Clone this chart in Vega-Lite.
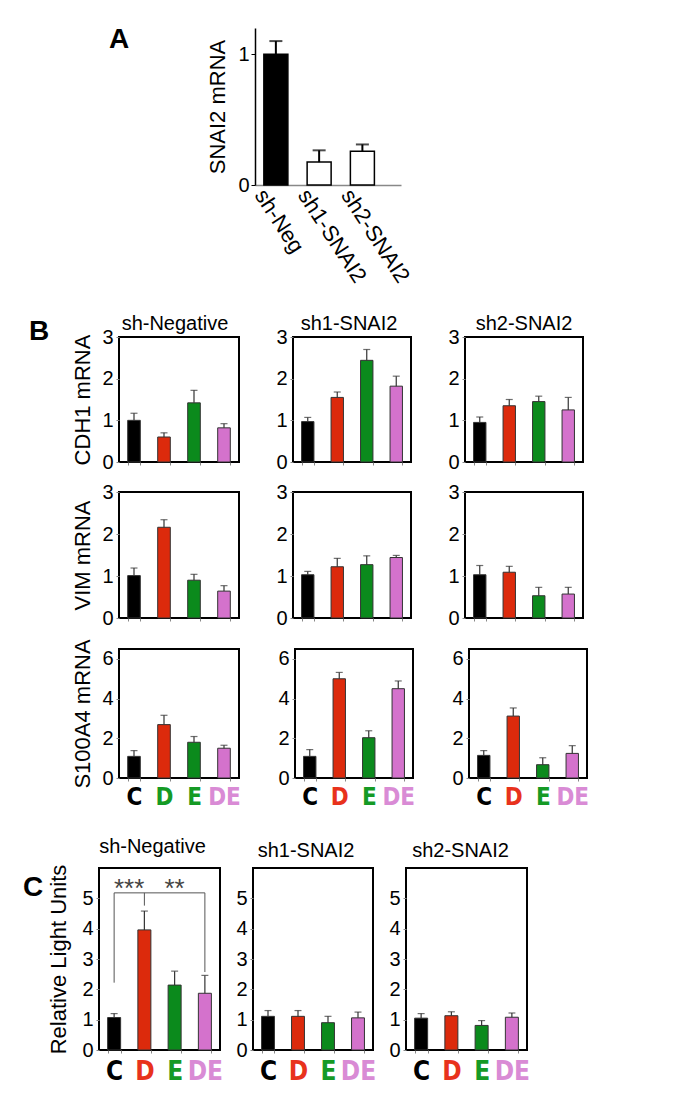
{
  "$schema": "https://vega.github.io/schema/vega-lite/v6.json",
  "background": "white",
  "padding": {"left": 22, "top": 26, "right": 5, "bottom": 5},
  "config": {
    "font": "Liberation Sans",
    "view": {"stroke": null},
    "title": {"fontSize": 20, "fontWeight": "normal", "font": "Liberation Sans", "color": "black"},
    "axis": {"labelFont": "Liberation Sans", "titleFont": "Liberation Sans", "labelColor": "black", "titleColor": "black", "titleFontWeight": "normal", "grid": false, "tickColor": "#888", "domainColor": "black", "labelOverlap": false}
  },
  "datasets": {
    "a": [
      {"name": "sh-Neg", "mean": 1.0, "upper": 1.10},
      {"name": "sh1-SNAI2", "mean": 0.175, "upper": 0.265},
      {"name": "sh2-SNAI2", "mean": 0.258, "upper": 0.31}
    ],
    "b": [
      {"gene": "CDH1", "grp": "sh-Negative", "cond": "C", "mean": 1.0, "upper": 1.17},
      {"gene": "CDH1", "grp": "sh-Negative", "cond": "D", "mean": 0.6, "upper": 0.7},
      {"gene": "CDH1", "grp": "sh-Negative", "cond": "E", "mean": 1.42, "upper": 1.72},
      {"gene": "CDH1", "grp": "sh-Negative", "cond": "DE", "mean": 0.82, "upper": 0.92},
      {"gene": "CDH1", "grp": "sh1-SNAI2", "cond": "C", "mean": 0.97, "upper": 1.07},
      {"gene": "CDH1", "grp": "sh1-SNAI2", "cond": "D", "mean": 1.55, "upper": 1.68},
      {"gene": "CDH1", "grp": "sh1-SNAI2", "cond": "E", "mean": 2.44, "upper": 2.7},
      {"gene": "CDH1", "grp": "sh1-SNAI2", "cond": "DE", "mean": 1.82, "upper": 2.06},
      {"gene": "CDH1", "grp": "sh2-SNAI2", "cond": "C", "mean": 0.95, "upper": 1.08},
      {"gene": "CDH1", "grp": "sh2-SNAI2", "cond": "D", "mean": 1.35, "upper": 1.5},
      {"gene": "CDH1", "grp": "sh2-SNAI2", "cond": "E", "mean": 1.45, "upper": 1.58},
      {"gene": "CDH1", "grp": "sh2-SNAI2", "cond": "DE", "mean": 1.25, "upper": 1.55},
      {"gene": "VIM", "grp": "sh-Negative", "cond": "C", "mean": 1.01, "upper": 1.19},
      {"gene": "VIM", "grp": "sh-Negative", "cond": "D", "mean": 2.16, "upper": 2.34},
      {"gene": "VIM", "grp": "sh-Negative", "cond": "E", "mean": 0.9, "upper": 1.04},
      {"gene": "VIM", "grp": "sh-Negative", "cond": "DE", "mean": 0.64, "upper": 0.77},
      {"gene": "VIM", "grp": "sh1-SNAI2", "cond": "C", "mean": 1.03, "upper": 1.11},
      {"gene": "VIM", "grp": "sh1-SNAI2", "cond": "D", "mean": 1.22, "upper": 1.42},
      {"gene": "VIM", "grp": "sh1-SNAI2", "cond": "E", "mean": 1.27, "upper": 1.48},
      {"gene": "VIM", "grp": "sh1-SNAI2", "cond": "DE", "mean": 1.44, "upper": 1.49},
      {"gene": "VIM", "grp": "sh2-SNAI2", "cond": "C", "mean": 1.03, "upper": 1.25},
      {"gene": "VIM", "grp": "sh2-SNAI2", "cond": "D", "mean": 1.09, "upper": 1.23},
      {"gene": "VIM", "grp": "sh2-SNAI2", "cond": "E", "mean": 0.53, "upper": 0.73},
      {"gene": "VIM", "grp": "sh2-SNAI2", "cond": "DE", "mean": 0.57, "upper": 0.73},
      {"gene": "S100A4", "grp": "sh-Negative", "cond": "C", "mean": 1.09, "upper": 1.38},
      {"gene": "S100A4", "grp": "sh-Negative", "cond": "D", "mean": 2.69, "upper": 3.16},
      {"gene": "S100A4", "grp": "sh-Negative", "cond": "E", "mean": 1.8, "upper": 2.09},
      {"gene": "S100A4", "grp": "sh-Negative", "cond": "DE", "mean": 1.5, "upper": 1.65},
      {"gene": "S100A4", "grp": "sh1-SNAI2", "cond": "C", "mean": 1.09, "upper": 1.43},
      {"gene": "S100A4", "grp": "sh1-SNAI2", "cond": "D", "mean": 5.0, "upper": 5.32},
      {"gene": "S100A4", "grp": "sh1-SNAI2", "cond": "E", "mean": 2.03, "upper": 2.38},
      {"gene": "S100A4", "grp": "sh1-SNAI2", "cond": "DE", "mean": 4.5, "upper": 4.89},
      {"gene": "S100A4", "grp": "sh2-SNAI2", "cond": "C", "mean": 1.14, "upper": 1.38},
      {"gene": "S100A4", "grp": "sh2-SNAI2", "cond": "D", "mean": 3.12, "upper": 3.53},
      {"gene": "S100A4", "grp": "sh2-SNAI2", "cond": "E", "mean": 0.67, "upper": 1.02},
      {"gene": "S100A4", "grp": "sh2-SNAI2", "cond": "DE", "mean": 1.24, "upper": 1.63}
    ],
    "c": [
      {"grp": "sh-Negative", "cond": "C", "mean": 1.07, "upper": 1.2},
      {"grp": "sh-Negative", "cond": "D", "mean": 3.96, "upper": 4.58},
      {"grp": "sh-Negative", "cond": "E", "mean": 2.14, "upper": 2.6},
      {"grp": "sh-Negative", "cond": "DE", "mean": 1.87, "upper": 2.46},
      {"grp": "sh1-SNAI2", "cond": "C", "mean": 1.11, "upper": 1.3},
      {"grp": "sh1-SNAI2", "cond": "D", "mean": 1.11, "upper": 1.3},
      {"grp": "sh1-SNAI2", "cond": "E", "mean": 0.9, "upper": 1.11},
      {"grp": "sh1-SNAI2", "cond": "DE", "mean": 1.06, "upper": 1.25},
      {"grp": "sh2-SNAI2", "cond": "C", "mean": 1.05, "upper": 1.2},
      {"grp": "sh2-SNAI2", "cond": "D", "mean": 1.13, "upper": 1.26},
      {"grp": "sh2-SNAI2", "cond": "E", "mean": 0.81, "upper": 0.97},
      {"grp": "sh2-SNAI2", "cond": "DE", "mean": 1.08, "upper": 1.22}
    ],
    "legs": [
      {"cond": "C", "lo": 2.22, "hi": 5.18},
      {"cond": "D", "lo": 4.76, "hi": 5.18},
      {"cond": "DE", "lo": 2.57, "hi": 5.18}
    ],
    "bar": [{"from": "C", "to": "DE", "y": 5.18}],
    "stars": [
      {"cond": "C", "label": "***", "y": 5.3},
      {"cond": "E", "label": "**", "y": 5.3}
    ]
  },
  "vconcat": [
    {
      "spacing": -7,
      "hconcat": [
        {
          "width": 188, "height": 24,
          "data": {"values": [{"panel": "A"}]},
          "mark": {"type": "text", "fontSize": 28, "fontWeight": "bold", "font": "Liberation Sans", "color": "black"},
          "encoding": {"text": {"field": "panel"}}
        },
        {
          "width": 146, "height": 157,
          "data": {"name": "a"},
          "encoding": {
            "x": {"field": "name", "type": "nominal", "sort": null,
              "scale": {"domain": ["sh-Neg", "sh1-SNAI2", "sh2-SNAI2"], "paddingInner": 0.445, "paddingOuter": 0.41, "align": 0.25},
              "axis": {"title": null, "ticks": false, "domainColor": "#888", "domainWidth": 1.5, "labelAngle": 57, "labelAlign": "left", "labelBaseline": "middle", "labelFontSize": 22, "labelOffset": -16, "labelPadding": 6}}
          },
          "layer": [
            {
              "mark": {"type": "bar", "stroke": "black", "strokeWidth": 1.5},
              "encoding": {
                "y": {"field": "mean", "type": "quantitative", "scale": {"domain": [0, 1.146]},
                  "axis": {"title": "SNAI2 mRNA", "values": [0, 1], "format": "d", "labelOverlap": false, "tickSize": 4, "tickColor": "black", "domainWidth": 1.5, "labelFontSize": 20, "labelPadding": 2, "titleFontSize": 22, "titlePadding": 8}},
                "color": {"condition": {"test": "datum.name === 'sh-Neg'", "value": "black"}, "value": "white"}
              }
            },
            {
              "mark": {"type": "rule", "color": "black", "strokeWidth": 2},
              "encoding": {"y": {"field": "mean", "type": "quantitative"}, "y2": {"field": "upper"}}
            },
            {
              "mark": {"type": "tick", "color": "black", "size": 13, "thickness": 2},
              "encoding": {"y": {"field": "upper", "type": "quantitative"}}
            }
          ]
        }
      ]
    },
    {
      "spacing": 17,
      "hconcat": [
        {
          "width": 28, "height": 6,
          "data": {"values": [{"panel": "B"}]},
          "mark": {"type": "text", "fontSize": 28, "fontWeight": "bold", "font": "Liberation Sans", "color": "black", "baseline": "alphabetic"},
          "encoding": {"text": {"field": "panel"}}
        },
        {
          "spacing": 8,
          "vconcat": [
            {
              "spacing": 34,
              "hconcat": [
                {
                  "width": 120, "height": 125,
                  "view": {"stroke": "black", "strokeWidth": 2},
                  "title": {"text": "sh-Negative", "offset": -7, "dx": -4},
                  "data": {"name": "b"},
                  "transform": [{"filter": "datum.gene === 'CDH1' && datum.grp === 'sh-Negative'"}],
                  "encoding": {"x": {"field": "cond", "type": "nominal", "sort": null, "scale": {"domain": ["C", "D", "E", "DE"], "paddingInner": 0.58, "paddingOuter": 0.29}, "axis": {"title": null, "labels": false, "domain": false, "tickBand": "extent", "tickSize": 3}}},
                  "layer": [
                    {"mark": {"type": "bar", "stroke": "#333", "strokeWidth": 1}, "encoding": {"y": {"field": "mean", "type": "quantitative", "scale": {"domain": [0, 3]}, "axis": {"title": "CDH1 mRNA", "values": [0, 0.5, 1, 1.5, 2, 2.5, 3], "labelExpr": "datum.value % 1 === 0 ? datum.label : ''", "labelOverlap": false, "domain": false, "tickSize": 3, "labelFontSize": 20, "labelPadding": 3, "titleFontSize": 22, "titlePadding": 7}}, "color": {"field": "cond", "type": "nominal", "scale": {"domain": ["C", "D", "E", "DE"], "range": ["#000000", "#dc2a0c", "#0b8a1c", "#d472cc"]}, "legend": null}}},
                    {"mark": {"type": "rule", "color": "#333", "strokeWidth": 1.2}, "encoding": {"y": {"field": "mean", "type": "quantitative"}, "y2": {"field": "upper"}}},
                    {"mark": {"type": "tick", "color": "#333", "size": 7, "thickness": 1.2}, "encoding": {"y": {"field": "upper", "type": "quantitative"}}}
                  ]
                },
                {
                  "width": 118, "height": 125,
                  "view": {"stroke": "black", "strokeWidth": 2},
                  "title": {"text": "sh1-SNAI2", "offset": -7, "dx": -3},
                  "data": {"name": "b"},
                  "transform": [{"filter": "datum.gene === 'CDH1' && datum.grp === 'sh1-SNAI2'"}],
                  "encoding": {"x": {"field": "cond", "type": "nominal", "sort": null, "scale": {"domain": ["C", "D", "E", "DE"], "paddingInner": 0.58, "paddingOuter": 0.29}, "axis": {"title": null, "labels": false, "domain": false, "tickBand": "extent", "tickSize": 3}}},
                  "layer": [
                    {"mark": {"type": "bar", "stroke": "#333", "strokeWidth": 1}, "encoding": {"y": {"field": "mean", "type": "quantitative", "scale": {"domain": [0, 3]}, "axis": {"title": null, "values": [0, 0.5, 1, 1.5, 2, 2.5, 3], "labelExpr": "datum.value % 1 === 0 ? datum.label : ''", "labelOverlap": false, "domain": false, "tickSize": 3, "labelFontSize": 20, "labelPadding": 3}}, "color": {"field": "cond", "type": "nominal", "scale": {"domain": ["C", "D", "E", "DE"], "range": ["#000000", "#dc2a0c", "#0b8a1c", "#d472cc"]}, "legend": null}}},
                    {"mark": {"type": "rule", "color": "#333", "strokeWidth": 1.2}, "encoding": {"y": {"field": "mean", "type": "quantitative"}, "y2": {"field": "upper"}}},
                    {"mark": {"type": "tick", "color": "#333", "size": 7, "thickness": 1.2}, "encoding": {"y": {"field": "upper", "type": "quantitative"}}}
                  ]
                },
                {
                  "width": 118, "height": 125,
                  "view": {"stroke": "black", "strokeWidth": 2},
                  "title": {"text": "sh2-SNAI2", "offset": -7},
                  "data": {"name": "b"},
                  "transform": [{"filter": "datum.gene === 'CDH1' && datum.grp === 'sh2-SNAI2'"}],
                  "encoding": {"x": {"field": "cond", "type": "nominal", "sort": null, "scale": {"domain": ["C", "D", "E", "DE"], "paddingInner": 0.58, "paddingOuter": 0.29}, "axis": {"title": null, "labels": false, "domain": false, "tickBand": "extent", "tickSize": 3}}},
                  "layer": [
                    {"mark": {"type": "bar", "stroke": "#333", "strokeWidth": 1}, "encoding": {"y": {"field": "mean", "type": "quantitative", "scale": {"domain": [0, 3]}, "axis": {"title": null, "values": [0, 0.5, 1, 1.5, 2, 2.5, 3], "labelExpr": "datum.value % 1 === 0 ? datum.label : ''", "labelOverlap": false, "domain": false, "tickSize": 3, "labelFontSize": 20, "labelPadding": 3}}, "color": {"field": "cond", "type": "nominal", "scale": {"domain": ["C", "D", "E", "DE"], "range": ["#000000", "#dc2a0c", "#0b8a1c", "#d472cc"]}, "legend": null}}},
                    {"mark": {"type": "rule", "color": "#333", "strokeWidth": 1.2}, "encoding": {"y": {"field": "mean", "type": "quantitative"}, "y2": {"field": "upper"}}},
                    {"mark": {"type": "tick", "color": "#333", "size": 7, "thickness": 1.2}, "encoding": {"y": {"field": "upper", "type": "quantitative"}}}
                  ]
                }
              ]
            },
            {
              "spacing": 34,
              "hconcat": [
                {
                  "width": 120, "height": 126,
                  "view": {"stroke": "black", "strokeWidth": 2},
                  "data": {"name": "b"},
                  "transform": [{"filter": "datum.gene === 'VIM' && datum.grp === 'sh-Negative'"}],
                  "encoding": {"x": {"field": "cond", "type": "nominal", "sort": null, "scale": {"domain": ["C", "D", "E", "DE"], "paddingInner": 0.58, "paddingOuter": 0.29}, "axis": {"title": null, "labels": false, "domain": false, "tickBand": "extent", "tickSize": 3}}},
                  "layer": [
                    {"mark": {"type": "bar", "stroke": "#333", "strokeWidth": 1}, "encoding": {"y": {"field": "mean", "type": "quantitative", "scale": {"domain": [0, 3]}, "axis": {"title": "VIM mRNA", "values": [0, 0.5, 1, 1.5, 2, 2.5, 3], "labelExpr": "datum.value % 1 === 0 ? datum.label : ''", "labelOverlap": false, "domain": false, "tickSize": 3, "labelFontSize": 20, "labelPadding": 3, "titleFontSize": 22, "titlePadding": 7}}, "color": {"field": "cond", "type": "nominal", "scale": {"domain": ["C", "D", "E", "DE"], "range": ["#000000", "#dc2a0c", "#0b8a1c", "#d472cc"]}, "legend": null}}},
                    {"mark": {"type": "rule", "color": "#333", "strokeWidth": 1.2}, "encoding": {"y": {"field": "mean", "type": "quantitative"}, "y2": {"field": "upper"}}},
                    {"mark": {"type": "tick", "color": "#333", "size": 7, "thickness": 1.2}, "encoding": {"y": {"field": "upper", "type": "quantitative"}}}
                  ]
                },
                {
                  "width": 118, "height": 126,
                  "view": {"stroke": "black", "strokeWidth": 2},
                  "data": {"name": "b"},
                  "transform": [{"filter": "datum.gene === 'VIM' && datum.grp === 'sh1-SNAI2'"}],
                  "encoding": {"x": {"field": "cond", "type": "nominal", "sort": null, "scale": {"domain": ["C", "D", "E", "DE"], "paddingInner": 0.58, "paddingOuter": 0.29}, "axis": {"title": null, "labels": false, "domain": false, "tickBand": "extent", "tickSize": 3}}},
                  "layer": [
                    {"mark": {"type": "bar", "stroke": "#333", "strokeWidth": 1}, "encoding": {"y": {"field": "mean", "type": "quantitative", "scale": {"domain": [0, 3]}, "axis": {"title": null, "values": [0, 0.5, 1, 1.5, 2, 2.5, 3], "labelExpr": "datum.value % 1 === 0 ? datum.label : ''", "labelOverlap": false, "domain": false, "tickSize": 3, "labelFontSize": 20, "labelPadding": 3}}, "color": {"field": "cond", "type": "nominal", "scale": {"domain": ["C", "D", "E", "DE"], "range": ["#000000", "#dc2a0c", "#0b8a1c", "#d472cc"]}, "legend": null}}},
                    {"mark": {"type": "rule", "color": "#333", "strokeWidth": 1.2}, "encoding": {"y": {"field": "mean", "type": "quantitative"}, "y2": {"field": "upper"}}},
                    {"mark": {"type": "tick", "color": "#333", "size": 7, "thickness": 1.2}, "encoding": {"y": {"field": "upper", "type": "quantitative"}}}
                  ]
                },
                {
                  "width": 118, "height": 126,
                  "view": {"stroke": "black", "strokeWidth": 2},
                  "data": {"name": "b"},
                  "transform": [{"filter": "datum.gene === 'VIM' && datum.grp === 'sh2-SNAI2'"}],
                  "encoding": {"x": {"field": "cond", "type": "nominal", "sort": null, "scale": {"domain": ["C", "D", "E", "DE"], "paddingInner": 0.58, "paddingOuter": 0.29}, "axis": {"title": null, "labels": false, "domain": false, "tickBand": "extent", "tickSize": 3}}},
                  "layer": [
                    {"mark": {"type": "bar", "stroke": "#333", "strokeWidth": 1}, "encoding": {"y": {"field": "mean", "type": "quantitative", "scale": {"domain": [0, 3]}, "axis": {"title": null, "values": [0, 0.5, 1, 1.5, 2, 2.5, 3], "labelExpr": "datum.value % 1 === 0 ? datum.label : ''", "labelOverlap": false, "domain": false, "tickSize": 3, "labelFontSize": 20, "labelPadding": 3}}, "color": {"field": "cond", "type": "nominal", "scale": {"domain": ["C", "D", "E", "DE"], "range": ["#000000", "#dc2a0c", "#0b8a1c", "#d472cc"]}, "legend": null}}},
                    {"mark": {"type": "rule", "color": "#333", "strokeWidth": 1.2}, "encoding": {"y": {"field": "mean", "type": "quantitative"}, "y2": {"field": "upper"}}},
                    {"mark": {"type": "tick", "color": "#333", "size": 7, "thickness": 1.2}, "encoding": {"y": {"field": "upper", "type": "quantitative"}}}
                  ]
                }
              ]
            },
            {
              "spacing": 34,
              "hconcat": [
                {
                  "width": 120, "height": 129,
                  "view": {"stroke": "black", "strokeWidth": 2},
                  "data": {"name": "b"},
                  "transform": [{"filter": "datum.gene === 'S100A4' && datum.grp === 'sh-Negative'"}],
                  "encoding": {"x": {"field": "cond", "type": "nominal", "sort": null, "scale": {"domain": ["C", "D", "E", "DE"], "paddingInner": 0.58, "paddingOuter": 0.29}, "axis": {"title": null, "domain": false, "tickBand": "extent", "tickSize": 3, "labelAngle": 0, "labelFont": "Liberation Sans Narrow, DejaVu Sans Condensed, Liberation Sans", "labelFontWeight": "bold", "labelFontSize": 24, "labelPadding": 4, "labelColor": {"condition": [{"test": "datum.value === 'D'", "value": "#159a25"}, {"test": "datum.value === 'E'", "value": "#159a25"}, {"test": "datum.value === 'DE'", "value": "#d98bd5"}], "value": "black"}}}},
                  "layer": [
                    {"mark": {"type": "bar", "stroke": "#333", "strokeWidth": 1}, "encoding": {"y": {"field": "mean", "type": "quantitative", "scale": {"domain": [0, 6.5]}, "axis": {"title": "S100A4 mRNA", "values": [0, 1, 2, 3, 4, 5, 6], "labelExpr": "datum.value % 2 === 0 ? datum.label : ''", "labelOverlap": false, "domain": false, "tickSize": 3, "labelFontSize": 20, "labelPadding": 3, "titleFontSize": 22, "titlePadding": 7}}, "color": {"field": "cond", "type": "nominal", "scale": {"domain": ["C", "D", "E", "DE"], "range": ["#000000", "#dc2a0c", "#0b8a1c", "#d472cc"]}, "legend": null}}},
                    {"mark": {"type": "rule", "color": "#333", "strokeWidth": 1.2}, "encoding": {"y": {"field": "mean", "type": "quantitative"}, "y2": {"field": "upper"}}},
                    {"mark": {"type": "tick", "color": "#333", "size": 7, "thickness": 1.2}, "encoding": {"y": {"field": "upper", "type": "quantitative"}}}
                  ]
                },
                {
                  "width": 118, "height": 129,
                  "view": {"stroke": "black", "strokeWidth": 2},
                  "data": {"name": "b"},
                  "transform": [{"filter": "datum.gene === 'S100A4' && datum.grp === 'sh1-SNAI2'"}],
                  "encoding": {"x": {"field": "cond", "type": "nominal", "sort": null, "scale": {"domain": ["C", "D", "E", "DE"], "paddingInner": 0.58, "paddingOuter": 0.29}, "axis": {"title": null, "domain": false, "tickBand": "extent", "tickSize": 3, "labelAngle": 0, "labelFont": "Liberation Sans Narrow, DejaVu Sans Condensed, Liberation Sans", "labelFontWeight": "bold", "labelFontSize": 24, "labelPadding": 4, "labelColor": {"condition": [{"test": "datum.value === 'D'", "value": "#e8321c"}, {"test": "datum.value === 'E'", "value": "#159a25"}, {"test": "datum.value === 'DE'", "value": "#d98bd5"}], "value": "black"}}}},
                  "layer": [
                    {"mark": {"type": "bar", "stroke": "#333", "strokeWidth": 1}, "encoding": {"y": {"field": "mean", "type": "quantitative", "scale": {"domain": [0, 6.5]}, "axis": {"title": null, "values": [0, 1, 2, 3, 4, 5, 6], "labelExpr": "datum.value % 2 === 0 ? datum.label : ''", "labelOverlap": false, "domain": false, "tickSize": 3, "labelFontSize": 20, "labelPadding": 3}}, "color": {"field": "cond", "type": "nominal", "scale": {"domain": ["C", "D", "E", "DE"], "range": ["#000000", "#dc2a0c", "#0b8a1c", "#d472cc"]}, "legend": null}}},
                    {"mark": {"type": "rule", "color": "#333", "strokeWidth": 1.2}, "encoding": {"y": {"field": "mean", "type": "quantitative"}, "y2": {"field": "upper"}}},
                    {"mark": {"type": "tick", "color": "#333", "size": 7, "thickness": 1.2}, "encoding": {"y": {"field": "upper", "type": "quantitative"}}}
                  ]
                },
                {
                  "width": 118, "height": 129,
                  "view": {"stroke": "black", "strokeWidth": 2},
                  "data": {"name": "b"},
                  "transform": [{"filter": "datum.gene === 'S100A4' && datum.grp === 'sh2-SNAI2'"}],
                  "encoding": {"x": {"field": "cond", "type": "nominal", "sort": null, "scale": {"domain": ["C", "D", "E", "DE"], "paddingInner": 0.58, "paddingOuter": 0.29}, "axis": {"title": null, "domain": false, "tickBand": "extent", "tickSize": 3, "labelAngle": 0, "labelFont": "Liberation Sans Narrow, DejaVu Sans Condensed, Liberation Sans", "labelFontWeight": "bold", "labelFontSize": 24, "labelPadding": 4, "labelColor": {"condition": [{"test": "datum.value === 'D'", "value": "#e8321c"}, {"test": "datum.value === 'E'", "value": "#159a25"}, {"test": "datum.value === 'DE'", "value": "#d98bd5"}], "value": "black"}}}},
                  "layer": [
                    {"mark": {"type": "bar", "stroke": "#333", "strokeWidth": 1}, "encoding": {"y": {"field": "mean", "type": "quantitative", "scale": {"domain": [0, 6.5]}, "axis": {"title": null, "values": [0, 1, 2, 3, 4, 5, 6], "labelExpr": "datum.value % 2 === 0 ? datum.label : ''", "labelOverlap": false, "domain": false, "tickSize": 3, "labelFontSize": 20, "labelPadding": 3}}, "color": {"field": "cond", "type": "nominal", "scale": {"domain": ["C", "D", "E", "DE"], "range": ["#000000", "#dc2a0c", "#0b8a1c", "#d472cc"]}, "legend": null}}},
                    {"mark": {"type": "rule", "color": "#333", "strokeWidth": 1.2}, "encoding": {"y": {"field": "mean", "type": "quantitative"}, "y2": {"field": "upper"}}},
                    {"mark": {"type": "tick", "color": "#333", "size": 7, "thickness": 1.2}, "encoding": {"y": {"field": "upper", "type": "quantitative"}}}
                  ]
                }
              ]
            }
          ]
        }
      ]
    },
    {
      "spacing": 2,
      "hconcat": [
        {
          "width": 16, "height": 40,
          "data": {"values": [{"panel": "C"}]},
          "mark": {"type": "text", "fontSize": 28, "fontWeight": "bold", "font": "Liberation Sans", "color": "black"},
          "encoding": {"text": {"field": "panel"}}
        },
        {
          "spacing": 10,
          "hconcat": [
            {
              "width": 121, "height": 182,
              "view": {"stroke": "black", "strokeWidth": 2},
              "title": {"text": "sh-Negative", "offset": 7, "dx": -7},
              "data": {"name": "c"},
              "resolve": {"axis": {"y": "independent"}},
              "encoding": {"x": {"field": "cond", "type": "nominal", "sort": null, "scale": {"domain": ["C", "D", "E", "DE"], "paddingInner": 0.57, "paddingOuter": 0.285}, "axis": {"title": null, "domain": false, "tickBand": "extent", "tickSize": 3, "labelAngle": 0, "labelFont": "Liberation Sans Narrow, DejaVu Sans Condensed, Liberation Sans", "labelFontWeight": "bold", "labelFontSize": 26, "labelPadding": 5, "labelColor": {"condition": [{"test": "datum.value === 'D'", "value": "#e8321c"}, {"test": "datum.value === 'E'", "value": "#159a25"}, {"test": "datum.value === 'DE'", "value": "#d98bd5"}], "value": "black"}}}},
              "layer": [
                {"transform": [{"filter": "datum.grp === 'sh-Negative'"}], "mark": {"type": "bar", "stroke": "#333", "strokeWidth": 1}, "encoding": {"y": {"field": "mean", "type": "quantitative", "scale": {"domain": [0, 5.85]}, "axis": {"title": "Relative Light Units", "values": [0, 0.5, 1, 1.5, 2, 2.5, 3, 3.5, 4, 4.5, 5, 5.5], "format": "d", "labelExpr": "datum.value % 1 === 0 ? datum.label : ''", "labelOverlap": false, "domain": false, "tickSize": 3, "labelFontSize": 20, "labelPadding": 3, "titleFontSize": 22, "titlePadding": 11}}, "color": {"field": "cond", "type": "nominal", "scale": {"domain": ["C", "D", "E", "DE"], "range": ["#000000", "#dc2a0c", "#0b8a1c", "#d472cc"]}, "legend": null}}},
                {"transform": [{"filter": "datum.grp === 'sh-Negative'"}], "mark": {"type": "rule", "color": "#333", "strokeWidth": 1.2}, "encoding": {"y": {"field": "mean", "type": "quantitative", "axis": null}, "y2": {"field": "upper"}}},
                {"transform": [{"filter": "datum.grp === 'sh-Negative'"}], "mark": {"type": "tick", "color": "#333", "size": 7, "thickness": 1.2}, "encoding": {"y": {"field": "upper", "type": "quantitative", "axis": null}}},
                {"data": {"name": "legs"}, "mark": {"type": "rule", "color": "#555", "strokeWidth": 1}, "encoding": {"y": {"field": "lo", "type": "quantitative", "axis": null}, "y2": {"field": "hi"}}},
                {"data": {"name": "bar"}, "mark": {"type": "rule", "color": "#555", "strokeWidth": 1}, "encoding": {"x": {"field": "from", "type": "nominal", "scale": {"domain": ["C", "D", "E", "DE"], "paddingInner": 0.57, "paddingOuter": 0.285}}, "x2": {"field": "to"}, "y": {"field": "y", "type": "quantitative", "axis": null}}},
                {"data": {"name": "stars"}, "transform": [{"filter": "datum.label === '***'"}], "mark": {"type": "text", "dx": 15, "fontSize": 26, "color": "#444", "baseline": "middle"}, "encoding": {"y": {"field": "y", "type": "quantitative", "axis": null}, "text": {"field": "label"}}},
                {"data": {"name": "stars"}, "transform": [{"filter": "datum.label === '**'"}], "mark": {"type": "text", "fontSize": 26, "color": "#444", "baseline": "middle"}, "encoding": {"y": {"field": "y", "type": "quantitative", "axis": null}, "text": {"field": "label"}}}
              ]
            },
            {
              "width": 120, "height": 182,
              "view": {"stroke": "black", "strokeWidth": 2},
              "title": {"text": "sh1-SNAI2", "offset": 7, "dx": -7},
              "data": {"name": "c"},
              "transform": [{"filter": "datum.grp === 'sh1-SNAI2'"}],
              "resolve": {"axis": {"y": "independent"}},
              "encoding": {"x": {"field": "cond", "type": "nominal", "sort": null, "scale": {"domain": ["C", "D", "E", "DE"], "paddingInner": 0.57, "paddingOuter": 0.285}, "axis": {"title": null, "domain": false, "tickBand": "extent", "tickSize": 3, "labelAngle": 0, "labelFont": "Liberation Sans Narrow, DejaVu Sans Condensed, Liberation Sans", "labelFontWeight": "bold", "labelFontSize": 26, "labelPadding": 5, "labelColor": {"condition": [{"test": "datum.value === 'D'", "value": "#e8321c"}, {"test": "datum.value === 'E'", "value": "#159a25"}, {"test": "datum.value === 'DE'", "value": "#d98bd5"}], "value": "black"}}}},
              "layer": [
                {"mark": {"type": "bar", "stroke": "#333", "strokeWidth": 1}, "encoding": {"y": {"field": "mean", "type": "quantitative", "scale": {"domain": [0, 5.85]}, "axis": {"title": null, "values": [0, 0.5, 1, 1.5, 2, 2.5, 3, 3.5, 4, 4.5, 5, 5.5], "format": "d", "labelExpr": "datum.value % 1 === 0 ? datum.label : ''", "labelOverlap": false, "domain": false, "tickSize": 3, "labelFontSize": 20, "labelPadding": 3}}, "color": {"field": "cond", "type": "nominal", "scale": {"domain": ["C", "D", "E", "DE"], "range": ["#000000", "#dc2a0c", "#0b8a1c", "#d472cc"]}, "legend": null}}},
                {"mark": {"type": "rule", "color": "#333", "strokeWidth": 1.2}, "encoding": {"y": {"field": "mean", "type": "quantitative", "axis": null}, "y2": {"field": "upper"}}},
                {"mark": {"type": "tick", "color": "#333", "size": 7, "thickness": 1.2}, "encoding": {"y": {"field": "upper", "type": "quantitative", "axis": null}}}
              ]
            },
            {
              "width": 121, "height": 182,
              "view": {"stroke": "black", "strokeWidth": 2},
              "title": {"text": "sh2-SNAI2", "offset": 7, "dx": -6},
              "data": {"name": "c"},
              "transform": [{"filter": "datum.grp === 'sh2-SNAI2'"}],
              "resolve": {"axis": {"y": "independent"}},
              "encoding": {"x": {"field": "cond", "type": "nominal", "sort": null, "scale": {"domain": ["C", "D", "E", "DE"], "paddingInner": 0.57, "paddingOuter": 0.285}, "axis": {"title": null, "domain": false, "tickBand": "extent", "tickSize": 3, "labelAngle": 0, "labelFont": "Liberation Sans Narrow, DejaVu Sans Condensed, Liberation Sans", "labelFontWeight": "bold", "labelFontSize": 26, "labelPadding": 5, "labelColor": {"condition": [{"test": "datum.value === 'D'", "value": "#e8321c"}, {"test": "datum.value === 'E'", "value": "#159a25"}, {"test": "datum.value === 'DE'", "value": "#d98bd5"}], "value": "black"}}}},
              "layer": [
                {"mark": {"type": "bar", "stroke": "#333", "strokeWidth": 1}, "encoding": {"y": {"field": "mean", "type": "quantitative", "scale": {"domain": [0, 5.85]}, "axis": {"title": null, "values": [0, 0.5, 1, 1.5, 2, 2.5, 3, 3.5, 4, 4.5, 5, 5.5], "format": "d", "labelExpr": "datum.value % 1 === 0 ? datum.label : ''", "labelOverlap": false, "domain": false, "tickSize": 3, "labelFontSize": 20, "labelPadding": 3}}, "color": {"field": "cond", "type": "nominal", "scale": {"domain": ["C", "D", "E", "DE"], "range": ["#000000", "#dc2a0c", "#0b8a1c", "#d472cc"]}, "legend": null}}},
                {"mark": {"type": "rule", "color": "#333", "strokeWidth": 1.2}, "encoding": {"y": {"field": "mean", "type": "quantitative", "axis": null}, "y2": {"field": "upper"}}},
                {"mark": {"type": "tick", "color": "#333", "size": 7, "thickness": 1.2}, "encoding": {"y": {"field": "upper", "type": "quantitative", "axis": null}}}
              ]
            }
          ]
        }
      ]
    }
  ],
  "spacing": 26
}
